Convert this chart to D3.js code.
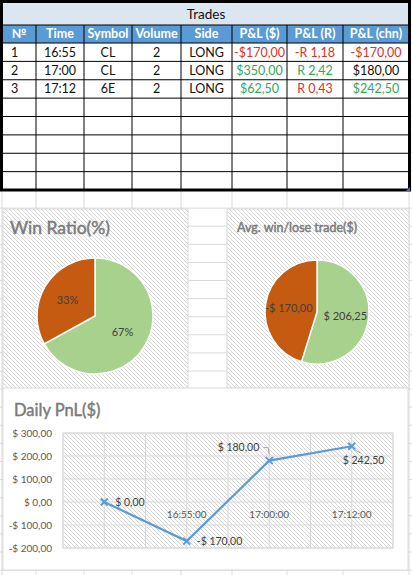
<!DOCTYPE html>
<html lang="en">
<head>
<meta charset="UTF-8">
<title>Trades</title>
<script src="https://cdn.jsdelivr.net/npm/d3@7"></script>
<style>
  body{margin:0;background:#fff}
  svg{display:block;font-family:Lato,"Open Sans",sans-serif}
</style>
</head>
<body>
<svg id="sheet" width="412" height="575"></svg>
<script>
// ---- trades table
let tableTitle = "Trades"
let columns = ["№","Time","Symbol","Volume","Side","P&L ($)","P&L (R)","P&L (chn)"]
let tradeNo = [1,2,3]
let tradeTime = ["16:55","17:00","17:12"]
let tradeSymbol = ["CL","CL","6E"]
let tradeVolume = [2,2,2]
let tradeSide = ["LONG","LONG","LONG"]
let pnlUsd = [-170, 350, 62.5]
let pnlR = [-1.18, 2.42, 0.43]
let pnlRTone = ["neg","pos","neg"]
let pnlChn = [-170, 180, 242.5]
let pnlChnTone = ["neg","","pos"]
let blankRows = 5

// ---- pies
let winLabels = ["Win","Lose"]
let winRatio = [67, 33]
let avgLabels = ["Win","Lose"]
let avgTrade = [206.25, -170]

// ---- daily pnl
let pnlTimes = ["", "16:55:00", "17:00:00", "17:12:00"]
let dailyPnl = [0, -170, 180, 242.5]
let pnlTicks = [-200,-100,0,100,200,300]

let svg = d3.select("#sheet")
let red = "#d7322d", green = "#34a55c", grid = "#d9d9d9"
let colX = [2,36,84,132,181,232,287,343,409]

let num = v => d3.format(".2f")(Math.abs(v)).replace(".", ",")
let money = v => (v<0?"-":"") + "$" + num(v)
let moneySp = v => (v<0?"-":"") + "$ " + num(v)
let rFmt = v => (v<0?"-":"") + "R " + num(v)

// hatch pattern used by the chart areas
let defs = svg.append("defs")
let pat = defs.append("pattern").attr("id","hatch")
  .attr("patternUnits","userSpaceOnUse").attr("width",4).attr("height",4)
pat.append("rect").attr("width",4).attr("height",4).attr("fill","#fff")
pat.append("path").attr("d","M0,0L4,4M-1,3L1,5M3,-1L5,1")
  .attr("stroke","#d6d6d6").attr("stroke-width",1)

// spreadsheet grid behind everything
let rowLines = d3.range(0,22).map(i => 190 + 18.1*i)
svg.append("g").selectAll("line").data(rowLines).join("line")
  .attr("x1",0).attr("x2",412).attr("y1",d=>d).attr("y2",d=>d)
  .attr("stroke",grid)
svg.append("g").selectAll("line").data(colX).join("line")
  .attr("x1",d=>d).attr("x2",d=>d).attr("y1",190).attr("y2",575)
  .attr("stroke",grid)
svg.append("g").selectAll("line").data(d3.range(0,10).map(i=>25+18.2*i)).join("line")
  .attr("x1",409).attr("x2",412).attr("y1",d=>d).attr("y2",d=>d).attr("stroke",grid)

// ---- table
let rows = tradeNo.map((n,i) => [
  {t:n}, {t:tradeTime[i]}, {t:tradeSymbol[i]}, {t:tradeVolume[i]}, {t:tradeSide[i]},
  {t:money(pnlUsd[i]), tone: pnlUsd[i]<0?"neg":"pos"},
  {t:rFmt(pnlR[i]), tone: pnlRTone[i]},
  {t:money(pnlChn[i]), tone: pnlChnTone[i]}
])
d3.range(blankRows).forEach(() => rows.push(columns.map(() => ({t:""}))))

let rowH = (190-43)/rows.length
let table = svg.append("g").attr("font-size",12.5)

table.append("rect").attr("x",2).attr("y",2).attr("width",407).attr("height",23).attr("fill","#dce6f1")
table.append("rect").attr("x",2).attr("y",25).attr("width",407).attr("height",18).attr("fill","#5b9bd5")
table.append("rect").attr("x",2).attr("y",43).attr("width",407).attr("height",147).attr("fill","#fff")

table.append("text").attr("x",206).attr("y",14).attr("dy","0.35em")
  .attr("text-anchor","middle").attr("font-size",13.5).attr("fill","#111").text(tableTitle)

let mid = i => (colX[i]+colX[i+1])/2
table.append("g").selectAll("text").data(columns).join("text")
  .attr("x",(d,i)=>mid(i)).attr("y",34).attr("dy","0.35em")
  .attr("text-anchor","middle").attr("font-weight","bold").attr("fill","#fff")
  .text(d=>d)

rows.forEach((r,ri) => {
  table.append("g").selectAll("text").data(r).join("text")
    .attr("x",(d,i)=> i==0 ? colX[0]+9 : mid(i))
    .attr("y",43 + rowH*ri + rowH/2).attr("dy","0.35em")
    .attr("text-anchor",(d,i)=> i==0 ? "start" : "middle")
    .attr("fill",d=> d.tone=="neg" ? red : d.tone=="pos" ? green : "#111")
    .text(d=>d.t)
})

// inner borders
table.append("g").selectAll("line").data(d3.range(rows.length+1).map(i=>43+rowH*i).concat([25])).join("line")
  .attr("x1",2).attr("x2",409).attr("y1",d=>d).attr("y2",d=>d).attr("stroke","#000")
table.append("g").selectAll("line").data(colX.slice(1,-1)).join("line")
  .attr("x1",d=>d).attr("x2",d=>d).attr("y1",25).attr("y2",190).attr("stroke","#000")
table.append("rect").attr("x",1.5).attr("y",1.5).attr("width",408).attr("height",188.5)
  .attr("fill","none").attr("stroke","#000").attr("stroke-width",3)
table.append("path").attr("d","M410,187L410,191L406,191Z").attr("fill","#4472c4")

// chart titles get a hairline stroke to look like the heavier spreadsheet font
let chartTitle = (x, y, size, text) => svg.append("text").attr("x",x).attr("y",y)
  .attr("font-size",size).attr("fill","#7a7a7a")
  .attr("stroke","#7a7a7a").attr("stroke-width",0.45).text(text)

// ---- pies
function pieChart(box, title, titleSize, titleX, titleY, cx, cy, r, labels, values, fmt, labelR) {
  svg.append("rect").attr("x",box[0]).attr("y",box[1]).attr("width",box[2]).attr("height",box[3])
    .attr("fill","url(#hatch)").attr("stroke",grid)
  chartTitle(titleX, titleY, titleSize, title)

  let color = d3.scaleOrdinal().domain(labels).range(["#a9d18e","#c55a11"])
  let pie = d3.pie().sort(null).value(d=>Math.abs(d.v))
  let arc = d3.arc().innerRadius(0).outerRadius(r)
  let lab = d3.arc().innerRadius(labelR*r).outerRadius(labelR*r)
  let g = svg.append("g").attr("transform","translate("+cx+","+cy+")")
  let arcs = pie(labels.map((l,i)=>({l:l, v:values[i]})))
  g.selectAll("path").data(arcs).join("path")
    .attr("d",arc).attr("fill",d=>color(d.data.l))
    .attr("stroke","#fff").attr("stroke-width",1.5)
  g.selectAll("text").data(arcs).join("text")
    .attr("transform",d=>"translate("+lab.centroid(d)+")")
    .attr("text-anchor","middle").attr("dy","0.35em")
    .attr("font-size",11).attr("fill","#404040")
    .text(d=>fmt(d.data.v))
}

pieChart([3,209,185,180], "Win Ratio(%)", 17.5, 10, 234, 95, 316, 58, winLabels, winRatio, v=>v+"%", 0.55)
pieChart([227,209,182,179], "Avg. win/lose trade($)", 12.5, 237, 232, 317, 312, 52, avgLabels, avgTrade, moneySp, 0.55)

// ---- daily pnl line chart
svg.append("rect").attr("x",3).attr("y",388).attr("width",405).attr("height",182)
  .attr("fill","#fff").attr("stroke",grid)
chartTitle(14, 416, 16.5, "Daily PnL($)")

let x = d3.scaleBand().domain(pnlTimes.map((d,i)=>i)).range([63,393])
let y = d3.scaleLinear().domain([d3.min(pnlTicks), d3.max(pnlTicks)]).range([548,433])

svg.append("rect").attr("x",63).attr("y",433).attr("width",330).attr("height",115)
  .attr("fill","url(#hatch)").attr("stroke",grid)

let vLines = d3.range(pnlTimes.length*2+1).map(i => x.range()[0] + i*x.step()/2)
svg.append("g").selectAll("line").data(vLines).join("line")
  .attr("x1",d=>d).attr("x2",d=>d).attr("y1",433).attr("y2",548).attr("stroke",grid)
svg.append("g").selectAll("line").data(pnlTicks).join("line")
  .attr("x1",63).attr("x2",393).attr("y1",d=>y(d)).attr("y2",d=>y(d)).attr("stroke",grid)

let yAxis = svg.append("g").attr("transform","translate(63,0)")
  .call(d3.axisLeft(y).tickValues(pnlTicks).tickSize(0).tickPadding(11).tickFormat(moneySp))
let xAxis = svg.append("g").attr("transform","translate(0,"+y(0)+")")
  .call(d3.axisBottom(x).tickSize(0).tickPadding(9).tickFormat(i=>pnlTimes[i]))
;[yAxis, xAxis].forEach(a => {
  a.select(".domain").remove()
  a.selectAll("text").attr("font-size",10).attr("fill","#595959").attr("font-family","Lato,'Open Sans',sans-serif")
})

let cxp = i => x(i) + x.bandwidth()/2
let line = d3.line().x((d,i)=>cxp(i)).y(d=>y(d))
svg.append("path").datum(dailyPnl).attr("d",line)
  .attr("fill","none").attr("stroke","#5b9bd5").attr("stroke-width",2.2)

svg.append("g").selectAll("path").data(dailyPnl).join("path")
  .attr("transform",(d,i)=>"translate("+cxp(i)+","+y(d)+")")
  .attr("d","M-3.5,-3.5L3.5,3.5M-3.5,3.5L3.5,-3.5")
  .attr("stroke","#5b9bd5").attr("stroke-width",2)

// data label placement: [dx, dy, anchor, leader]
let spots = [[11,0,"start",null],[10,0,"start",null],[-10,-13,"end","M-6,-13L-1,-13L0,-6"],[-9,14,"start","M2,3L9,7"]]
let lbl = svg.append("g").attr("font-size",10.5).attr("fill","#404040")
dailyPnl.forEach((v,i) => {
  let s = spots[i], px = cxp(i), py = y(v)
  if (s[3]) lbl.append("path").attr("transform","translate("+px+","+py+")")
    .attr("d",s[3]).attr("fill","none").attr("stroke","#a6a6a6")
  lbl.append("text").attr("x",px+s[0]).attr("y",py+s[1]).attr("dy","0.35em")
    .attr("text-anchor",s[2]).text(moneySp(v))
})
</script>
</body>
</html>
